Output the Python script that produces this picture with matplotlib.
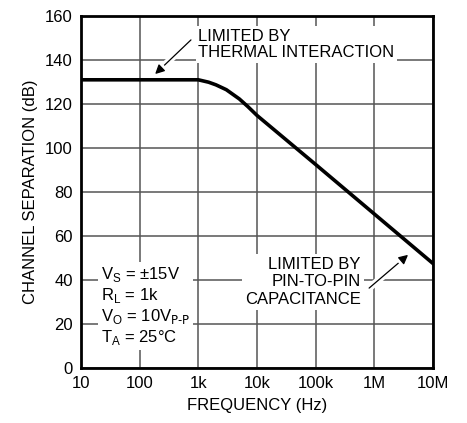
import matplotlib.pyplot as plt
import matplotlib.patheffects as pe

plt.rcParams['font.family'] = ['Liberation Sans Narrow', 'Liberation Sans', 'DejaVu Sans']

# curve
freq = [10, 100, 1000, 1500, 2000, 3000, 5000, 7000, 10000, 100000, 1000000, 10000000]
sep_db = [131, 131, 131, 129.9, 128.7, 126.5, 122.3, 118.8, 114.8, 92.5, 70, 47.5]

xticks = [10, 100, 1000, 10000, 100000, 1000000, 10000000]
xlabels = ['10', '100', '1k', '10k', '100k', '1M', '10M']
yticks = [0, 20, 40, 60, 80, 100, 120, 140, 160]

fig = plt.figure(figsize=(4.67, 4.23), dpi=100)
ax = fig.add_axes([81 / 467, 55 / 423, 352 / 467, 352 / 423])

ax.semilogx(freq, sep_db, color='black', lw=2.6, zorder=3,
            solid_joinstyle='round')
ax.set_xlim(10, 1e7)
ax.set_ylim(0, 160)
ax.set_xticks(xticks)
ax.set_xticklabels(xlabels)
ax.set_yticks(yticks)
ax.minorticks_off()
ax.tick_params(length=0, labelsize=12, pad=6)
ax.grid(True, color='#555555', lw=1.1)
for s in ax.spines.values():
    s.set_linewidth(2)
ax.set_xlabel('FREQUENCY (Hz)', fontsize=12, labelpad=5)
ax.set_ylabel('CHANNEL SEPARATION (dB)', fontsize=12, labelpad=5)

white = [pe.withStroke(linewidth=5, foreground='white')]
box = dict(facecolor='white', edgecolor='none', pad=2)

ax.text(1000, 154, 'LIMITED BY\nTHERMAL INTERACTION', fontsize=12,
        va='top', ha='left', linespacing=1.1, bbox=box, zorder=4)
ax.annotate('', xy=(169, 132.7), xytext=(810, 150),
            arrowprops=dict(arrowstyle='-|>', color='black', lw=0.9,
                            mutation_scale=14, path_effects=white), zorder=5)

ax.text(5.9e5, 50.5, 'LIMITED BY\nPIN-TO-PIN\nCAPACITANCE', fontsize=12,
        va='top', ha='right', linespacing=1.2, multialignment='right',
        bbox=box, zorder=4)
ax.annotate('', xy=(4.1e6, 52.3), xytext=(7.5e5, 35.5),
            arrowprops=dict(arrowstyle='-|>', color='black', lw=0.9,
                            mutation_scale=14, path_effects=white), zorder=5)

cond = ('V$_\\mathregular{S}$ = ±15V\nR$_\\mathregular{L}$ = 1k\n'
        'V$_\\mathregular{O}$ = 10V$_\\text{P-P}$\nT$_\\mathregular{A}$ = 25°C')
ax.text(22, 47, cond, fontsize=12, va='top', ha='left', linespacing=1.15,
        bbox=box, zorder=4)

fig.savefig('out.png', dpi=100)
